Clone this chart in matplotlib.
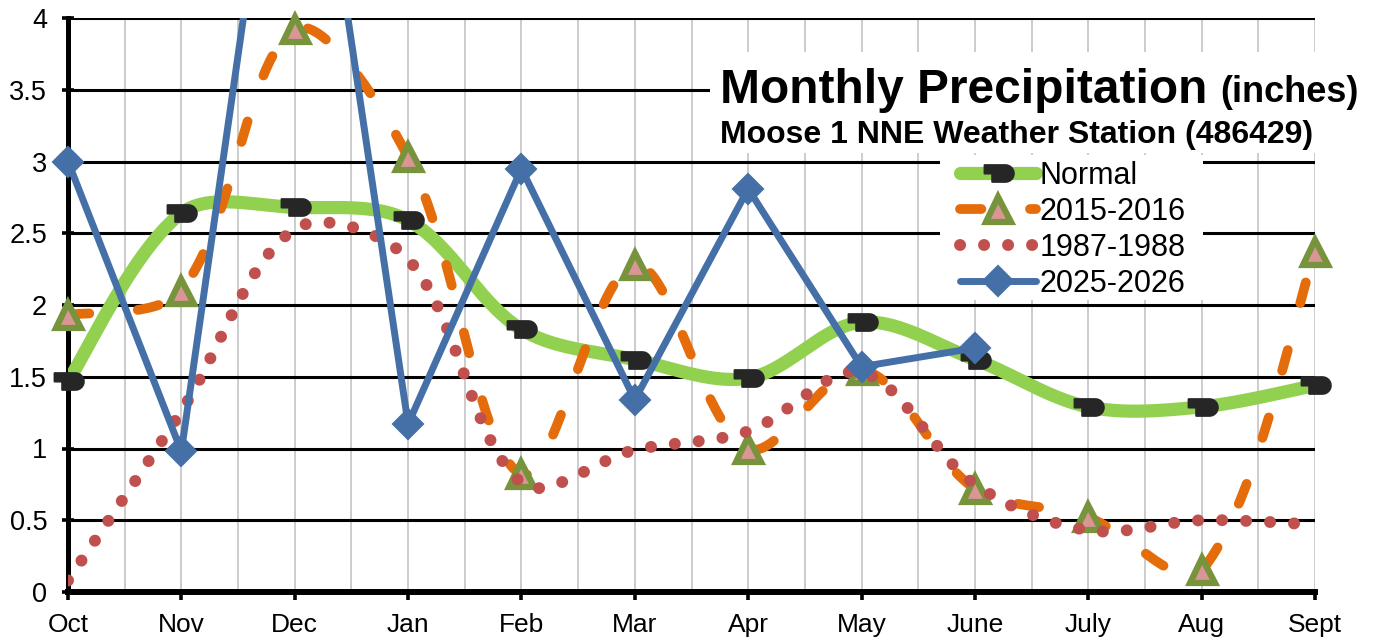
import numpy as np
import matplotlib
matplotlib.use("Agg")
import matplotlib.pyplot as plt
from matplotlib.path import Path
from matplotlib.lines import Line2D
from matplotlib.patches import Rectangle
from matplotlib.transforms import Bbox, TransformedBbox

# ---------------- data ----------------
months = ['Oct', 'Nov', 'Dec', 'Jan', 'Feb', 'Mar', 'Apr', 'May', 'June', 'July', 'Aug', 'Sept']
normal = [1.47, 2.64, 2.68, 2.59, 1.83, 1.62, 1.49, 1.88, 1.62, 1.29, 1.29, 1.44]
y2015_2016 = [1.93, 2.10, 3.92, 3.03, 0.82, 2.28, 1.00, 1.55, 0.72, 0.52, 0.15, 2.37]
y1987_1988 = [0.08, 1.26, 2.53, 2.32, 0.76, 0.99, 1.12, 1.53, 0.75, 0.43, 0.50, 0.47]
y2025_2026 = [3.00, 0.98, 6.50, 1.17, 2.95, 1.34, 2.81, 1.57, 1.70]
series_labels = ['Normal', '2015-2016', '1987-1988', '2025-2026']
ytick_vals = [0, 0.5, 1, 1.5, 2, 2.5, 3, 3.5, 4]
ytick_labels = ['0', '0.5', '1', '1.5', '2', '2.5', '3', '3.5', '4']

# ---------------- style ----------------
plt.rcParams['font.family'] = ['Liberation Sans', 'DejaVu Sans']
GREEN = '#92D050'
BLACK_MK = '#262626'
ORANGE = '#E46C0A'
OLIVE = '#77933C'
PINK = '#DA9694'
RED = '#C0504D'
BLUE = '#4470A7'

W, H = 1373, 641
fig = plt.figure(figsize=(W / 100, H / 100), dpi=100)
L, R, T, B = 68, 1315, 18, 592
ax = fig.add_axes([L / W, 1 - B / H, (R - L) / W, (B - T) / H])
ax.set_xlim(0, 11)
ax.set_ylim(0, 4)

sx = (R - L) / 11.0   # px per month
sy = (B - T) / 4.0    # px per inch


def excel_smooth(yv, n=60):
    """Bezier smoothing similar to Excel's 'smoothed line' (computed in pixel space)."""
    P = np.column_stack([np.arange(len(yv)) * sx, np.asarray(yv, float) * sy])
    m = len(P)
    t = np.linspace(0, 1, n)[1:, None]
    pts = [P[0:1]]
    for i in range(m - 1):
        p1, p2 = P[i], P[i + 1]
        p0 = P[i - 1] if i > 0 else None
        p3 = P[i + 2] if i + 2 < m else None
        d12 = np.linalg.norm(p2 - p1)
        if p0 is None:
            c1 = p1 + (p2 - p1) / 6.0
        else:
            d01 = np.linalg.norm(p1 - p0)
            c1 = p1 + (p2 - p0) * (d12 / (d01 + d12)) / 3.0
        if p3 is None:
            c2 = p2 - (p2 - p1) / 6.0
        else:
            d23 = np.linalg.norm(p3 - p2)
            c2 = p2 - (p3 - p1) * (d12 / (d12 + d23)) / 3.0
        seg = ((1 - t) ** 3) * p1 + 3 * ((1 - t) ** 2) * t * c1 + 3 * (1 - t) * t ** 2 * c2 + t ** 3 * p2
        pts.append(seg)
    pts = np.vstack(pts)
    return pts[:, 0] / sx, pts[:, 1] / sy


# custom "Normal" marker (rounded black block with a notch)
arc = [(0.5 + 0.6 * np.cos(a), 0.6 * np.sin(a)) for a in np.linspace(np.pi / 2, -np.pi / 2, 13)]
nverts = [(-1.0, 0.6), (0.5, 0.6)] + arc + [(0.5, -0.6), (-0.45, -0.6), (-0.45, 0.0), (-1.0, 0.0), (-1.0, 0.6)]
ncodes = [Path.MOVETO] + [Path.LINETO] * (len(nverts) - 2) + [Path.CLOSEPOLY]
normal_marker = Path(nverts, ncodes)

# marker clip box slightly larger than axes (edge markers show, off-scale ones don't)
mk_clip = TransformedBbox(Bbox([[-0.05, -0.06], [1.05, 1.03]]), ax.transAxes)

x_idx = np.arange(len(months))

# Normal
xs, ys = excel_smooth(normal)
ax.plot(xs, ys, color=GREEN, lw=9.5, solid_capstyle='round', solid_joinstyle='round', zorder=3)
mk = ax.plot(x_idx, normal, ls='none', marker=normal_marker, ms=22, mfc=BLACK_MK, mec=BLACK_MK,
             mew=1.5, zorder=3.1)[0]
mk.set_clip_box(mk_clip)

# 2015-2016
xs, ys = excel_smooth(y2015_2016)
ax.plot(xs, ys, color=ORANGE, lw=7, dashes=(2.2, 5.0), dash_capstyle='round', zorder=4)
mk = ax.plot(x_idx, y2015_2016, ls='none', marker='^', ms=18, mfc=PINK, mec=OLIVE, mew=4.5,
             zorder=4.1)[0]
mk.set_clip_box(mk_clip)

# 1987-1988
xs, ys = excel_smooth(y1987_1988)
ax.plot(xs, ys, color=RED, lw=8.6, dashes=(0.01, 2.0), dash_capstyle='round', zorder=5)

# 2025-2026
xb = np.arange(len(y2025_2026))
ax.plot(xb, y2025_2026, color=BLUE, lw=5, solid_joinstyle='round', solid_capstyle='round', zorder=6)
mk = ax.plot(xb, y2025_2026, ls='none', marker='D', ms=15, mfc=BLUE, mec=BLUE, mew=1.5,
             zorder=6.1)[0]
mk.set_clip_box(mk_clip)

# ---------------- axes ----------------
ax.set_xticks(x_idx)
ax.set_xticklabels(months)
ax.set_xticks(np.arange(0.5, 11, 1.0), minor=True)
ax.set_yticks(ytick_vals)
ax.set_yticklabels(ytick_labels)
ax.grid(axis='x', which='both', color='#BFBFBF', lw=1.1, zorder=0)
ax.grid(axis='y', which='major', color='black', lw=2.2, zorder=0)
ax.set_axisbelow(True)
for s in ['top', 'right']:
    ax.spines[s].set_visible(False)
ax.spines['left'].set_linewidth(3.6)
ax.spines['bottom'].set_linewidth(4.3)
ax.spines['left'].set_zorder(2.5)
ax.spines['bottom'].set_zorder(2.5)
ax.tick_params(axis='y', which='major', direction='inout', length=9, width=2.6, labelsize=19.5, pad=10.5)
ax.tick_params(axis='x', which='major', direction='out', length=6, width=2.6, labelsize=19, pad=9)
ax.tick_params(axis='x', which='minor', length=0)

# ---------------- title box ----------------
fig.add_artist(Rectangle((710 / W, 1 - 153 / H), (W - 710) / W, (153 - 52) / H,
                         transform=fig.transFigure, facecolor='white', edgecolor='none', zorder=5))
fig.text(720 / W, 1 - 103 / H, 'Monthly Precipitation', fontsize=34.5, fontweight='bold',
         va='baseline', ha='left', zorder=10)
fig.text(1220 / W, 1 - 102 / H, '(inches)', fontsize=26, fontweight='bold',
         va='baseline', ha='left', zorder=10)
fig.text(720 / W, 1 - 143 / H, 'Moose 1 NNE Weather Station (486429)', fontsize=23,
         fontweight='bold', va='baseline', ha='left', zorder=10)

# ---------------- legend ----------------
fig.add_artist(Rectangle((940 / W, 1 - 300 / H), (1203 - 940) / W, (300 - 155) / H,
                         transform=fig.transFigure, facecolor='white', edgecolor='none', zorder=5))
handles = [
    Line2D([], [], color=GREEN, lw=9.5, solid_capstyle='round', marker=normal_marker, ms=22,
           mfc=BLACK_MK, mec=BLACK_MK, mew=1.5),
    Line2D([], [], color=ORANGE, lw=7, dashes=(2.2, 5.0), dash_capstyle='round', marker='^', ms=18,
           mfc=PINK, mec=OLIVE, mew=4.5),
    Line2D([], [], color=RED, lw=8.6, dashes=(0.01, 2.0), dash_capstyle='round'),
    Line2D([], [], color=BLUE, lw=5, solid_capstyle='round', marker='D', ms=15, mfc=BLUE, mec=BLUE,
           mew=1.5),
]
leg = fig.legend(handles, series_labels, loc='upper left', bbox_to_anchor=(960 / W, 1 - 160.5 / H),
                 frameon=False, fontsize=22, handlelength=2.5, handletextpad=0.1,
                 labelspacing=0.2, borderpad=0, borderaxespad=0, numpoints=1)
leg.set_zorder(10)

fig.savefig('out.png', dpi=100)
